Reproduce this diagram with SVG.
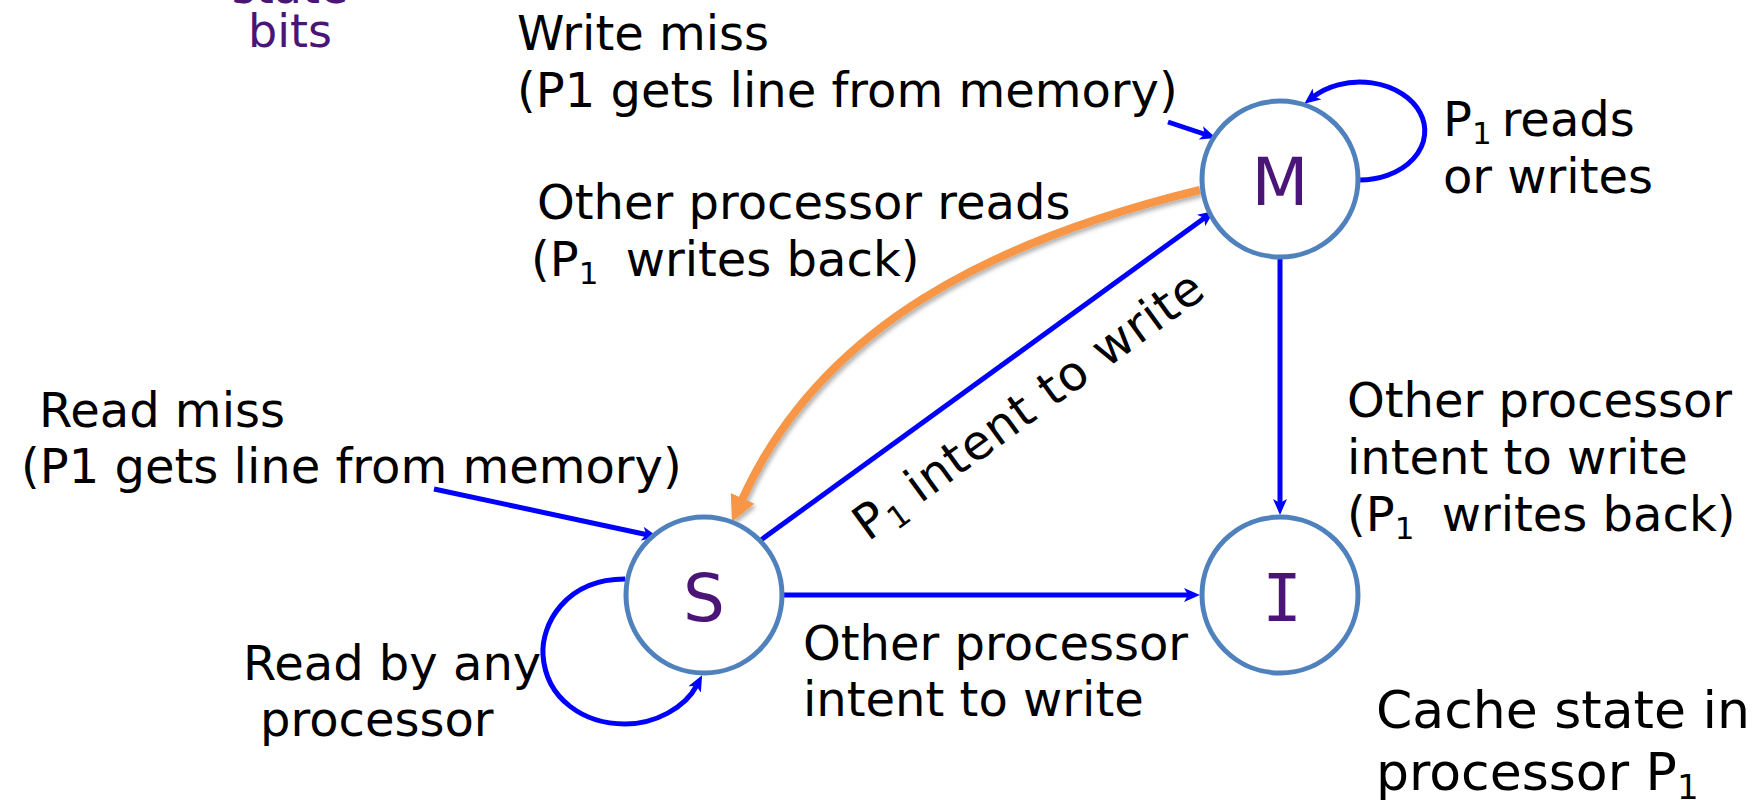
<svg xmlns="http://www.w3.org/2000/svg" width="1755" height="800" viewBox="0 0 1755 800">
  <style>
    .t { font-family: "DejaVu Sans", Verdana, sans-serif; font-size: 48px; fill: #000; }
    .big { font-size: 52px; }
    .sub { font-size: 31px; }
    .purple { font-family: "DejaVu Sans", Verdana, sans-serif; font-size: 46px; fill: #4B1577; }
    .state { fill: #fff; stroke: #4F81BD; stroke-width: 5; }
    .letter { font-family: "DejaVu Sans", Verdana, sans-serif; font-size: 66px; fill: #4B1577; text-anchor: middle; }
    .edge { fill: none; stroke: #0000FF; stroke-width: 5; marker-end: url(#arrow); }
    .orange { fill: none; stroke: #F79646; stroke-width: 8; marker-end: url(#arrowOrange); }
  </style>
  <defs>
    <marker id="arrow" markerUnits="userSpaceOnUse" viewBox="0 0 16 14" refX="5" refY="7" markerWidth="16" markerHeight="14" orient="auto">
      <path d="M0,0 L16,7 L0,14 L4,7 z" fill="#0000FF"/>
    </marker>
    <marker id="arrowOrange" markerUnits="userSpaceOnUse" viewBox="0 0 26 26" refX="4" refY="13" markerWidth="26" markerHeight="26" orient="auto">
      <path d="M0,0 L26,13 L0,26 z" fill="#F79646"/>
    </marker>
    <filter id="shadow" x="-10%" y="-10%" width="130%" height="130%">
      <feDropShadow dx="2" dy="3" stdDeviation="2" flood-color="#000" flood-opacity="0.3"/>
    </filter>
  </defs>

  <rect width="1755" height="800" fill="#fff"/>

  <!-- caption for the cache-line state field -->
  <text class="purple" x="290" y="3" text-anchor="middle">state</text>
  <text class="purple" x="290" y="47" text-anchor="middle">bits</text>

  <!-- transitions -->
  <g id="connectors">
    <!-- write miss into M -->
    <path class="edge" d="M1168,122 L1205.6,134.5"/>
    <!-- M self loop -->
    <path class="edge" d="M1358,180 A65,49 0 1 0 1313,97"/>
    <!-- M to S (other processor reads) -->
    <g filter="url(#shadow)">
      <path class="orange" d="M1200,190 C995,240 820,325 741,502"/>
    </g>
    <!-- S to M (P1 intent to write) -->
    <path class="edge" d="M754,545 L1205.1,217.5"/>
    <!-- M to I -->
    <path class="edge" d="M1280,258 L1280,504"/>
    <!-- read miss into S -->
    <path class="edge" d="M434,489 L647.2,534.7"/>
    <!-- S self loop -->
    <path class="edge" d="M625,579 C565,579 541,625 543,655 C546,700 585,724 625,724 C655,724 685,708 697,685"/>
    <!-- S to I -->
    <path class="edge" d="M783,595 L1189,595"/>
  </g>

  <!-- states -->
  <g id="node-M">
    <circle class="state" cx="1280" cy="179" r="78"/>
    <text class="letter" x="1280" y="205">M</text>
  </g>
  <g id="node-S">
    <circle class="state" cx="704" cy="595" r="78"/>
    <text class="letter" x="704" y="621">S</text>
  </g>
  <g id="node-I">
    <circle class="state" cx="1280" cy="595" r="78"/>
    <text class="letter" x="1282" y="621" style="font-family: 'DejaVu Sans Mono', monospace;">I</text>
  </g>

  <!-- transition labels -->
  <g id="labels">
    <text class="t" x="517" y="50">Write miss</text>
    <text class="t" x="517" y="107">(P1 gets line from memory)</text>

    <text class="t" x="1443" y="136">P<tspan class="sub" dy="8">1</tspan><tspan dx="10" dy="-8">reads</tspan></text>
    <text class="t" x="1443" y="193">or writes</text>

    <text class="t" x="537" y="219">Other processor reads</text>
    <text class="t" x="531" y="276">(P<tspan class="sub" dy="8">1</tspan><tspan dx="12" dy="-8"> writes back)</tspan></text>

    <text class="t" transform="translate(868,542) rotate(-36)" style="letter-spacing:1px">P<tspan class="sub" dy="8">1</tspan><tspan dx="14" dy="-8">intent to write</tspan></text>

    <text class="t" x="1347" y="417">Other processor</text>
    <text class="t" x="1347" y="474">intent to write</text>
    <text class="t" x="1347" y="531">(P<tspan class="sub" dy="8">1</tspan><tspan dx="12" dy="-8"> writes back)</tspan></text>

    <text class="t" x="39" y="427">Read miss</text>
    <text class="t" x="21" y="483">(P1 gets line from memory)</text>

    <text class="t" x="243" y="680">Read by any</text>
    <text class="t" x="260" y="736">processor</text>

    <text class="t" x="803" y="660">Other processor</text>
    <text class="t" x="803" y="716">intent to write</text>

    <text class="t big" x="1376" y="728">Cache state in</text>
    <text class="t big" x="1376" y="790">processor P<tspan class="sub" style="font-size:34px" dy="9">1</tspan></text>
  </g>
</svg>
